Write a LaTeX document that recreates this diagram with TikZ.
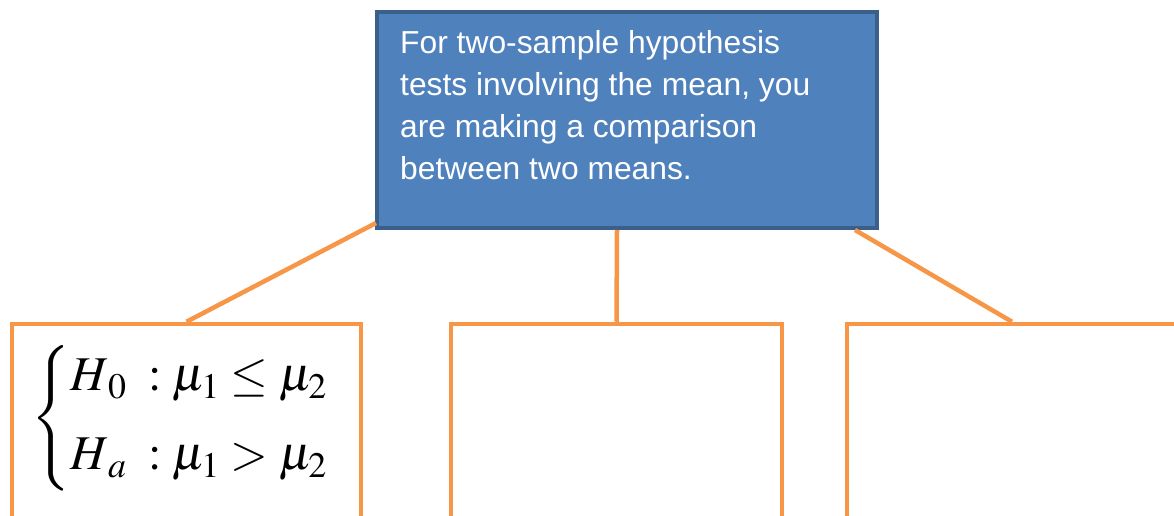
\documentclass[tikz,border=0pt]{standalone}
\usepackage{mathptmx}
\usepackage{fontspec}
\newfontfamily\arialf{Liberation Sans}
\definecolor{bfill}{HTML}{4F81BD}
\definecolor{bline}{HTML}{3A5F8B}
\definecolor{oline}{HTML}{F79646}
\begin{document}
\begin{tikzpicture}[x=1pt,y=-1pt,
  topbox/.style={draw=bline,fill=bfill,line width=4.5pt,minimum width=500pt,minimum height=216pt,inner sep=0pt},
  subbox/.style={draw=oline,line width=4.5pt,inner sep=0pt,fill=white},
  conn/.style={draw=oline,line width=4.5pt},
  toptext/.style={text=white,font=\arialf\fontsize{31.8}{42}\selectfont,align=left,inner sep=0pt,anchor=north west}]
\useasboundingbox (0,0) rectangle (1174,516);
\clip (0,0) rectangle (1174,516);
\node[topbox] (q) at (627,120) {};
\node[toptext] (qt) at (400,30) {For two-sample hypothesis\\tests involving the mean, you\\are making a comparison\\between two means.};
\node[subbox,minimum width=349pt,minimum height=250pt] (l) at (186.5,449) {};
\node[subbox,minimum width=331pt,minimum height=250pt] (m) at (616.5,449) {};
\node[subbox,minimum width=330pt,minimum height=250pt] (r) at (1012,449) {};
\coordinate (c1) at (376,223);
\coordinate (c2) at (617,230);
\coordinate (c3) at (855,230);
\draw[conn] (c1) -- (l.north);
\draw[conn] (c2) -- (m.north);
\draw[conn] (c3) -- (r.north);
\node[anchor=west,inner sep=0pt,font=\fontsize{48.5}{62}\selectfont] (h) at (31,418)
  {$\left\{\begin{array}{@{}l@{}} H_{\,0}\;:\mu_{1}\leq\mu_{2}\\[17pt] H_{\,a}\;:\mu_{1}>\mu_{2}\end{array}\right.$};
\end{tikzpicture}
\end{document}
